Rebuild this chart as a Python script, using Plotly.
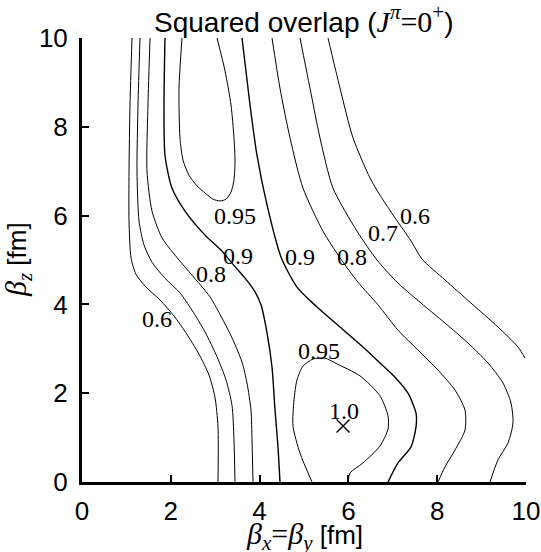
import plotly.graph_objects as go

# Contour levels of the squared overlap, traced as polylines in (beta_x=beta_y, beta_z) [fm]
# Left family (small beta_x side)
c06_left_x = [1.126, 1.081, 1.059, 1.059, 1.104, 1.216, 1.441, 1.757, 2.072, 2.342, 2.635, 2.860, 2.995, 3.063, 3.063]
c06_left_y = [10.0, 8.49, 7.00, 5.88, 5.05, 4.68, 4.39, 4.10, 3.74, 3.36, 2.88, 2.41, 1.91, 1.24, 0.0]

c07_left_x = [1.306, 1.261, 1.239, 1.284, 1.396, 1.577, 1.869, 2.207, 2.477, 2.770, 3.041, 3.243, 3.378, 3.423, 3.446]
c07_left_y = [10.0, 8.49, 7.00, 5.88, 5.34, 4.95, 4.59, 4.26, 3.87, 3.38, 2.82, 2.30, 1.73, 0.95, 0.0]

c08_left_x = [1.532, 1.486, 1.464, 1.577, 1.802, 2.185, 2.477, 2.883, 3.153, 3.401, 3.604, 3.716, 3.806, 3.829, 3.851]
c08_left_y = [10.0, 8.49, 7.00, 6.10, 5.50, 5.00, 4.66, 4.17, 3.69, 3.20, 2.70, 2.23, 1.62, 0.95, 0.0]

c09_left_x = [1.869, 1.847, 1.869, 2.027, 2.320, 2.770, 3.153, 3.378, 3.649, 3.874, 4.032, 4.167, 4.279, 4.347, 4.414, 4.459]
c09_left_y = [10.0, 8.49, 7.36, 6.62, 6.10, 5.56, 5.20, 4.93, 4.62, 4.32, 3.99, 3.36, 2.59, 1.62, 0.79, 0.0]

c095_top_x = [2.252, 2.185, 2.207, 2.275, 2.410, 2.590, 2.770, 2.950, 3.108, 3.243, 3.356, 3.423, 3.446, 3.423, 3.356, 3.221, 3.041]
c095_top_y = [10.0, 8.87, 7.75, 7.25, 6.91, 6.67, 6.51, 6.37, 6.33, 6.37, 6.53, 6.80, 7.25, 7.75, 8.49, 9.26, 10.0]

# Right family (large beta_x side)
c095_bot_x = [5.180, 4.910, 4.752, 4.775, 4.842, 4.977, 5.203, 5.473, 5.743, 6.261, 6.712, 6.892, 6.892, 6.712, 6.329, 6.036, 5.991]
c095_bot_y = [0.0, 0.65, 1.26, 1.85, 2.30, 2.61, 2.77, 2.79, 2.66, 2.39, 1.94, 1.49, 1.19, 0.81, 0.43, 0.20, 0.0]

c09_right_x = [3.604, 3.784, 3.941, 4.167, 4.482, 4.842, 5.293, 5.811, 6.329, 6.712, 7.050, 7.342, 7.523, 7.523, 7.410, 7.117, 6.892]
c09_right_y = [10.0, 8.49, 7.36, 6.24, 5.07, 4.39, 3.94, 3.49, 3.04, 2.68, 2.36, 2.00, 1.55, 1.24, 0.79, 0.43, 0.0]

c08_right_x = [4.279, 4.459, 4.685, 4.977, 5.428, 5.811, 6.216, 6.667, 7.117, 7.568, 8.018, 8.401, 8.626, 8.626, 8.401, 8.176, 8.018]
c08_right_y = [10.0, 8.87, 7.75, 6.62, 5.65, 5.05, 4.50, 3.99, 3.42, 2.97, 2.52, 2.07, 1.62, 1.17, 0.72, 0.34, 0.0]

c07_right_x = [4.910, 5.135, 5.360, 5.653, 6.194, 6.644, 7.117, 7.635, 8.176, 8.694, 9.144, 9.482, 9.662, 9.707, 9.595, 9.369, 9.189]
c07_right_y = [10.0, 8.87, 7.75, 6.62, 5.65, 5.00, 4.48, 4.03, 3.58, 3.13, 2.68, 2.23, 1.78, 1.33, 0.88, 0.50, 0.0]

c06_right_x = [5.541, 5.811, 6.104, 6.486, 6.712, 7.050, 7.410, 7.658, 8.176, 8.761, 9.369, 9.820, 9.977]
c06_right_y = [10.0, 8.87, 7.75, 6.85, 6.46, 5.95, 5.43, 5.02, 4.55, 4.03, 3.49, 3.04, 2.79]

# Contour level labels
label_text = ["0.95", "0.9", "0.8", "0.6", "0.9", "0.8", "0.7", "0.6", "0.95", "1.0"]
label_x = [3.45, 3.51, 2.90, 1.69, 4.91, 6.08, 6.78, 7.50, 5.34, 5.90]
label_y = [5.99, 5.09, 4.68, 3.67, 5.07, 5.07, 5.61, 5.99, 2.95, 1.60]

# Position of the overlap maximum
max_x = [5.88]
max_y = [1.26]

curves = [
    (c06_left_x, c06_left_y, 1.0),
    (c07_left_x, c07_left_y, 1.0),
    (c08_left_x, c08_left_y, 1.0),
    (c09_left_x, c09_left_y, 1.4),
    (c095_top_x, c095_top_y, 1.0),
    (c095_bot_x, c095_bot_y, 1.0),
    (c09_right_x, c09_right_y, 1.4),
    (c08_right_x, c08_right_y, 1.0),
    (c07_right_x, c07_right_y, 1.0),
    (c06_right_x, c06_right_y, 1.0),
]

SANS = "Liberation Sans, Arial, sans-serif"
SERIF = "Liberation Serif, Times New Roman, serif"

fig = go.Figure()
for cx, cy, w in curves:
    fig.add_trace(go.Scatter(
        x=cx, y=cy, mode="lines",
        line=dict(color="black", width=w, shape="spline", smoothing=0.7),
        hoverinfo="skip", showlegend=False,
    ))

fig.add_trace(go.Scatter(
    x=max_x, y=max_y, mode="markers",
    marker=dict(symbol="x-thin", size=13, line=dict(color="black", width=1.4)),
    showlegend=False, hoverinfo="skip",
))

for t, lx, ly in zip(label_text, label_x, label_y):
    fig.add_annotation(
        x=lx, y=ly, text=t, showarrow=False,
        font=dict(family=SERIF, size=24, color="black"),
        xanchor="center", yanchor="middle",
    )

axis_common = dict(
    range=[0, 10], tickvals=[0, 2, 4, 6, 8, 10], ticktext=["0", "2", "4", "6", "8", "10"],
    ticks="inside", ticklen=7, tickwidth=2, tickcolor="black",
    showline=True, linewidth=3, linecolor="black",
    showgrid=False, zeroline=False, mirror=False, automargin=False,
    tickfont=dict(family=SANS, size=26, color="black"),
)

fig.update_layout(
    template="none",
    width=541, height=552,
    margin=dict(l=82, r=15, t=38, b=70, autoexpand=False),
    paper_bgcolor="white", plot_bgcolor="white",
    font=dict(family=SANS, color="black"),
    xaxis=dict(**axis_common, ticklabelstandoff=4),
    yaxis=dict(**axis_common, ticklabelstandoff=6),
)

# Title
fig.add_annotation(
    xref="paper", yref="paper", x=0.5, y=1, yshift=19,
    xanchor="center", yanchor="middle", showarrow=False,
    text=("Squared overlap (<span style=\"font-family:Liberation Serif;font-size:30px\"><i>J</i>"
          "<sup><i>π</i></sup>=0<sup>+</sup></span>)"),
    font=dict(family=SANS, size=28, color="black"),
)

# Axis titles
fig.add_annotation(
    xref="paper", yref="paper", x=0.5, y=0, yshift=-54,
    xanchor="center", yanchor="middle", showarrow=False,
    text=("<span style=\"font-family:Liberation Serif;font-size:30px\"><i>β</i><sub><i>x</i></sub>="
          "<i>β</i><sub><i>y</i></sub></span> [fm]"),
    font=dict(family=SANS, size=26, color="black"),
)
fig.add_annotation(
    xref="paper", yref="paper", x=0, y=0.5, xshift=-64,
    xanchor="center", yanchor="middle", showarrow=False, textangle=-90,
    text=("<span style=\"font-family:Liberation Serif;font-size:30px\"><i>β</i><sub><i>z</i></sub></span> [fm]"),
    font=dict(family=SANS, size=26, color="black"),
)

fig.write_html("out.html")
